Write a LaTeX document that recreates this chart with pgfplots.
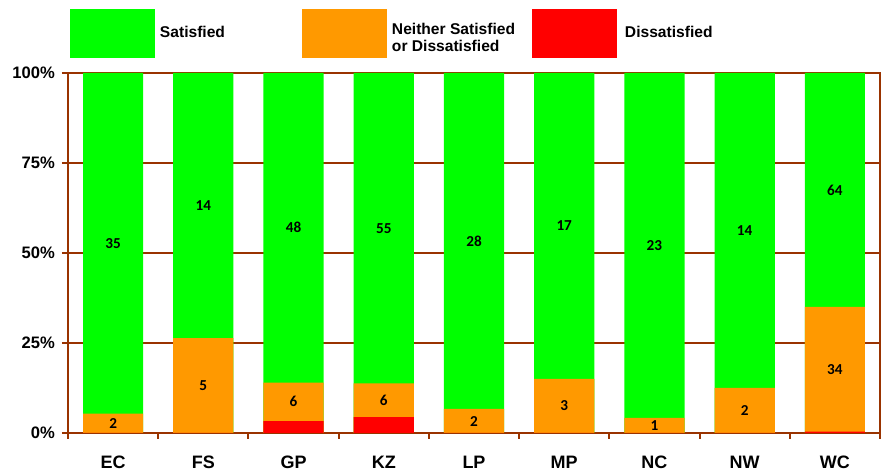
\documentclass[border=0pt]{standalone}
\usepackage{pgfplots}
\pgfplotsset{compat=1.18}
\usepackage{pgfplotstable}
\usepackage{fontspec}
\setmainfont{Liberation Sans}
\newfontfamily\labfont{Carlito}
\definecolor{sat}{HTML}{00FF00}
\definecolor{nei}{HTML}{FF9900}
\definecolor{dis}{HTML}{FF0000}
\definecolor{axc}{HTML}{993300}

% Satisfied (full 100% stack top)
\pgfplotstableread{
x val
0 100
1 100
2 100
3 100
4 100
5 100
6 100
7 100
8 100
}\satdata
% Neither + Dissatisfied (cumulative %)
\pgfplotstableread{
x val
0 5.41
1 26.32
2 14.0
3 13.8
4 6.67
5 15.0
6 4.17
7 12.5
8 35.0
}\neidata
% Dissatisfied (%)
\pgfplotstableread{
x val
0 0
1 0
2 3.3
3 4.4
4 0
5 0
6 0
7 0
8 0.4
}\disdata
% count labels at segment middles
\pgfplotstableread{
x y lab
0 52.7 35
0 2.7 2
1 63.2 14
1 13.2 5
2 57.0 48
2 8.65 6
3 56.9 55
3 9.1 6
4 53.3 28
4 3.3 2
5 57.5 17
5 7.5 3
6 52.1 23
6 2.1 1
7 56.25 14
7 6.25 2
8 67.5 64
8 17.7 34
}\labdata

\begin{document}
\begin{tikzpicture}
\begin{axis}[
  name=ax,
  scale only axis,
  width=406pt, height=180pt,
  xmin=-0.5, xmax=8.5,
  ymin=0, ymax=100,
  xtick={0,...,8},
  xticklabels={EC,FS,GP,KZ,LP,MP,NC,NW,WC},
  minor xtick={-0.5,0.5,...,8.5},
  every major x tick/.append style={draw=none},
  ytick={0,25,50,75,100},
  yticklabels={0\%,25\%,50\%,75\%,100\%},
  tick align=outside,
  major tick length=3pt,
  minor tick length=3pt,
  tick style={axc, line width=1pt},
  xtick pos=bottom, ytick pos=left,
  axis line style={axc, line width=1pt},
  ymajorgrids,
  major grid style={axc, line width=0.7pt},
  xticklabel style={font=\bfseries\fontsize{9}{10}\selectfont, yshift=-5pt},
  yticklabel style={font=\bfseries\fontsize{8.3}{10}\selectfont},
  legend columns=3,
  legend style={draw=none, fill=none, inner sep=0pt, outer sep=0pt,
    at={(rel axis cs:0,1)}, anchor=south west, xshift=1pt, yshift=7.5pt,
    font=\bfseries\fontsize{7.8}{9.5}\selectfont,
    cells={anchor=west, inner sep=0pt},
    /tikz/every odd column/.append style={column sep=0.5pt}},
  legend image code/.code={\path[#1, draw=none] (0pt,-12.25pt) rectangle (42.5pt,12.25pt);},
]
\addplot[ybar, bar width=0.667, bar shift=0pt, fill=sat, draw=none] table[x=x,y=val]{\satdata};
\addlegendentry{\makebox[69pt][l]{Satisfied}}
\addplot[ybar, bar width=0.667, bar shift=0pt, fill=nei, draw=none] table[x=x,y=val]{\neidata};
\addlegendentry{\makebox[68pt][l]{\begin{tabular}{@{}l@{}}Neither Satisfied\\[-1pt]or Dissatisfied\end{tabular}}}
\addplot[ybar, bar width=0.667, bar shift=0pt, fill=dis, draw=none] table[x=x,y=val]{\disdata};
\addlegendentry{\hspace{1.5pt}Dissatisfied}
\addplot[forget plot, draw=none, mark=none, nodes near coords, point meta=explicit symbolic,
  every node near coord/.append style={anchor=center, font=\labfont\bfseries\fontsize{7.6}{9}\selectfont, text=black}]
  table[x=x,y=y,meta=lab]{\labdata};
\end{axis}
\pgfresetboundingbox
\path[use as bounding box] (ax.south west) ++(-34pt,-21pt) rectangle ([shift={(2.5pt,36.5pt)}]ax.north east);
\end{tikzpicture}
\end{document}
